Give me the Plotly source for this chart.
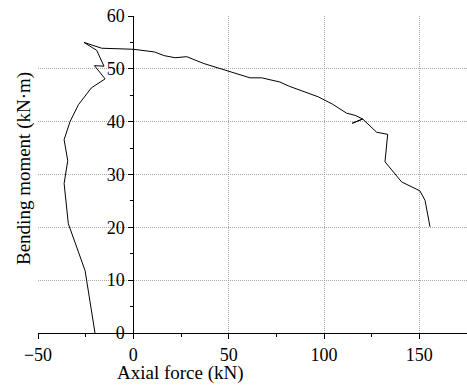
import plotly.graph_objects as go

# Axial force (kN) and bending moment (kN·m)
axial_force = [-20.1, -25.3, -34.1, -36.3, -34.4, -36.3, -33.2, -28.8, -22.0, -14.8,
               -20.4, -15.4, -19.2, -25.9, -16.6, 0.0, 11.0, 16.2, 21.9, 28.0,
               37.0, 50.7, 56.0, 61.2, 67.3, 76.9, 81.8, 97.0, 104.5, 111.9,
               116.3, 120.3, 114.8, 120.3, 127.6, 133.4, 132.0, 140.7, 150.3, 153.0,
               155.6]
bending_moment = [0.0, 11.8, 20.7, 28.3, 32.6, 36.6, 40.0, 43.2, 46.4, 48.1,
                  50.6, 50.5, 53.5, 55.0, 53.9, 53.7, 53.2, 52.5, 52.1, 52.3,
                  51.0, 49.4, 48.8, 48.3, 48.3, 47.5, 46.7, 44.7, 43.3, 41.6,
                  41.2, 40.5, 39.7, 40.5, 38.0, 37.6, 32.4, 28.6, 26.9, 25.1,
                  20.1]

x_range = [-50, 175]
y_range = [0, 60]
x_ticks = [-50, 0, 50, 100, 150]
y_ticks = [0, 10, 20, 30, 40, 50, 60]
x_grid = [50, 100, 150]
y_grid = [10, 20, 30, 40, 50]

FONT = "Times New Roman, Liberation Serif, serif"

fig = go.Figure()
fig.add_trace(go.Scatter(x=axial_force, y=bending_moment, mode="lines",
                         line=dict(color="black", width=1), showlegend=False))
# invisible helper trace so grid-only overlay axes are drawn
fig.add_trace(go.Scatter(x=[None], y=[None], xaxis="x2", yaxis="y2",
                         mode="lines", showlegend=False, hoverinfo="skip"))

fig.update_layout(
    width=467, height=385,
    margin=dict(l=38, r=0, t=16, b=52),
    paper_bgcolor="white", plot_bgcolor="white",
    font=dict(family=FONT, size=18, color="black"),
    xaxis=dict(range=x_range, tickvals=x_ticks, showgrid=False, zeroline=False,
               showline=True, linecolor="black", linewidth=1,
               ticks="outside", ticklen=5, tickcolor="black", tickwidth=1,
               minor=dict(dtick=25, tick0=0, ticks="outside", ticklen=3,
                          tickcolor="black", showgrid=False),
               tickfont=dict(family=FONT, size=18), anchor="y"),
    yaxis=dict(range=y_range, tickvals=y_ticks, showgrid=False, zeroline=False,
               showline=True, linecolor="black", linewidth=1,
               ticks="outside", ticklen=5, tickcolor="black", tickwidth=1,
               minor=dict(dtick=5, tick0=0, ticks="outside", ticklen=3,
                          tickcolor="black", showgrid=False),
               tickfont=dict(family=FONT, size=18),
               anchor="free", position=50 / 225),
    xaxis2=dict(range=x_range, overlaying="x", tickvals=x_grid, showgrid=True,
                gridcolor="#a8a8a8", griddash="1px,1px", gridwidth=1,
                showticklabels=False, ticks="", zeroline=False, showline=False),
    yaxis2=dict(range=y_range, overlaying="y", tickvals=y_grid, showgrid=True,
                gridcolor="#a8a8a8", griddash="1px,1px", gridwidth=1,
                showticklabels=False, ticks="", zeroline=False, showline=False),
    annotations=[
        dict(text="Axial force (kN)", xref="paper", yref="paper",
             x=0.333, y=-0.126, xanchor="center", yanchor="middle",
             showarrow=False, font=dict(family=FONT, size=19)),
        dict(text="Bending moment (kN·m)", xref="paper", yref="paper",
             x=-0.033, y=0.52, xanchor="center", yanchor="middle",
             textangle=-90, showarrow=False, font=dict(family=FONT, size=19)),
    ],
)

fig.write_html("out.html")
